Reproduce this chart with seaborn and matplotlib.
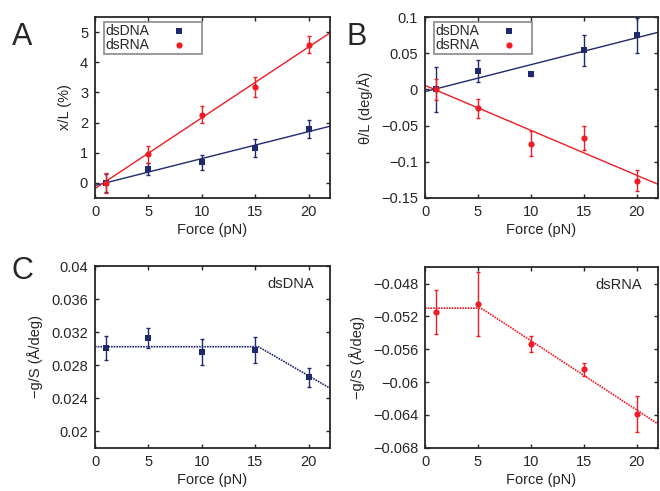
import numpy as np
import matplotlib
matplotlib.use('Agg')
import matplotlib.pyplot as plt
import seaborn as sns

# data
force = [1, 5, 10, 15, 20]

ext_dna = [0.0, 0.47, 0.69, 1.17, 1.78]
ext_dna_err = [0.3, 0.2, 0.25, 0.3, 0.3]
ext_rna = [0.0, 0.95, 2.26, 3.19, 4.59]
ext_rna_err = [0.33, 0.28, 0.28, 0.33, 0.28]
ext_dna_fit = [0.0895, -0.09]   # slope, intercept
ext_rna_fit = [0.235, -0.19]

tw_dna = [0.0, 0.026, 0.021, 0.054, 0.075]
tw_dna_err = [0.031, 0.015, 0.003, 0.022, 0.024]
tw_rna = [0.0, -0.026, -0.075, -0.067, -0.126]
tw_rna_err = [0.015, 0.013, 0.017, 0.017, 0.014]
tw_dna_fit = [0.00373, -0.003]
tw_rna_fit = [-0.00622, 0.0056]

gs_dna = [0.03008, 0.03128, 0.0296, 0.02984, 0.02652]
gs_dna_err = [0.0014, 0.0012, 0.0016, 0.0016, 0.0011]
gs_rna = [-0.05143, -0.0505, -0.05535, -0.05843, -0.06384]
gs_rna_err = [0.0027, 0.0039, 0.001, 0.0008, 0.0022]
gs_dna_fit = [15.3, 0.03024, -0.00075]   # break, plateau, slope
gs_rna_fit = [5.3, -0.0510, -0.000844]

navy = '#1f2a6e'
red = '#ee1c24'

sns.set_style('ticks')
plt.rcParams['font.family'] = ['Liberation Sans', 'DejaVu Sans']
plt.rcParams['font.size'] = 10.5
plt.rcParams['axes.linewidth'] = 1.3
plt.rcParams['xtick.direction'] = 'in'
plt.rcParams['ytick.direction'] = 'in'
plt.rcParams['xtick.top'] = True
plt.rcParams['ytick.right'] = True
plt.rcParams['xtick.major.size'] = 3
plt.rcParams['ytick.major.size'] = 3

fig = plt.figure(figsize=(6.6, 4.91), dpi=100)
axA = fig.add_axes([0.144, 0.597, 0.356, 0.368])
axB = fig.add_axes([0.644, 0.597, 0.353, 0.368])
axC = fig.add_axes([0.144, 0.088, 0.356, 0.370])
axD = fig.add_axes([0.644, 0.088, 0.353, 0.368])

xx = np.linspace(0, 22, 50)


def panel(ax, y, err, color, marker, label):
    ax.errorbar(force, y, yerr=err, fmt='none', ecolor=color, elinewidth=1, capsize=1.5)
    sns.scatterplot(x=force, y=y, ax=ax, color=color, marker=marker, s=20,
                    edgecolor=color, linewidth=0, label=label, zorder=3)


# A
axA.plot(xx, ext_dna_fit[0] * xx + ext_dna_fit[1], color=navy, lw=1)
axA.plot(xx, ext_rna_fit[0] * xx + ext_rna_fit[1], color=red, lw=1)
panel(axA, ext_dna, ext_dna_err, navy, 's', 'dsDNA')
panel(axA, ext_rna, ext_rna_err, red, 'o', 'dsRNA')
axA.set_xlim(0, 22)
axA.set_ylim(-0.5, 5.5)
axA.set_xticks([0, 5, 10, 15, 20])
axA.set_yticks([0, 1, 2, 3, 4, 5])
axA.set_xlabel('Force (pN)')
axA.set_ylabel('x/L (%)')

# B
axB.plot(xx, tw_dna_fit[0] * xx + tw_dna_fit[1], color=navy, lw=1)
axB.plot(xx, tw_rna_fit[0] * xx + tw_rna_fit[1], color=red, lw=1)
panel(axB, tw_dna, tw_dna_err, navy, 's', 'dsDNA')
panel(axB, tw_rna, tw_rna_err, red, 'o', 'dsRNA')
axB.set_xlim(0, 22)
axB.set_ylim(-0.15, 0.1)
axB.set_xticks([0, 5, 10, 15, 20])
axB.set_yticks([-0.15, -0.1, -0.05, 0, 0.05, 0.1])
axB.set_yticklabels(['\u22120.15', '\u22120.1', '\u22120.05', '0', '0.05', '0.1'])
axB.set_xlabel('Force (pN)')
axB.set_ylabel('\u03b8/L (deg/\u00c5)')

for ax in (axA, axB):
    leg = ax.legend(loc='upper left', markerfirst=False, frameon=True, fancybox=False,
                    borderpad=0.15, handletextpad=0.6, labelspacing=0.0,
                    bbox_to_anchor=(0.025, 0.99), fontsize=10, handlelength=3.0,
                    borderaxespad=0.2)
    leg.get_frame().set_edgecolor('#777777')
    leg.get_frame().set_linewidth(1.3)


def piecewise(ax, fit, color):
    yy = np.where(xx < fit[0], fit[1], fit[1] + fit[2] * (xx - fit[0]))
    ax.plot(xx, yy, color=color, lw=1.2, ls=(0, (1, 0.6)))


# C
piecewise(axC, gs_dna_fit, navy)
panel(axC, gs_dna, gs_dna_err, navy, 's', None)
axC.set_xlim(0, 22)
axC.set_ylim(0.018, 0.04)
axC.set_xticks([0, 5, 10, 15, 20])
axC.set_yticks([0.02, 0.024, 0.028, 0.032, 0.036, 0.04])
axC.set_yticklabels(['0.02', '0.024', '0.028', '0.032', '0.036', '0.04'])
axC.set_xlabel('Force (pN)')
axC.set_ylabel('\u2212g/S (\u00c5/deg)')
axC.text(0.93, 0.9, 'dsDNA', transform=axC.transAxes, ha='right', va='center', fontsize=10.5)

# D
piecewise(axD, gs_rna_fit, red)
panel(axD, gs_rna, gs_rna_err, red, 'o', None)
axD.set_xlim(0, 22)
axD.set_ylim(-0.068, -0.046)
axD.set_xticks([0, 5, 10, 15, 20])
dt = [-0.068, -0.064, -0.06, -0.056, -0.052, -0.048]
axD.set_yticks(dt)
axD.set_yticklabels(['\u22120.068', '\u22120.064', '\u22120.06', '\u22120.056', '\u22120.052', '\u22120.048'])
axD.set_xlabel('Force (pN)')
axD.set_ylabel('\u2212g/S (\u00c5/deg)')
axD.text(0.93, 0.9, 'dsRNA', transform=axD.transAxes, ha='right', va='center', fontsize=10.5)

for ax in (axC, axD):
    if ax.get_legend():
        ax.get_legend().remove()

for ax in (axA, axB, axC, axD):
    ax.tick_params(labelsize=10.5, width=1, pad=5)
    ax.xaxis.labelpad = 3
    ax.yaxis.labelpad = 6

fig.text(0.018, 0.955, 'A', fontsize=22, va='top')
fig.text(0.525, 0.955, 'B', fontsize=22, va='top')
fig.text(0.018, 0.478, 'C', fontsize=22, va='top')

fig.savefig('out.png', dpi=100)
